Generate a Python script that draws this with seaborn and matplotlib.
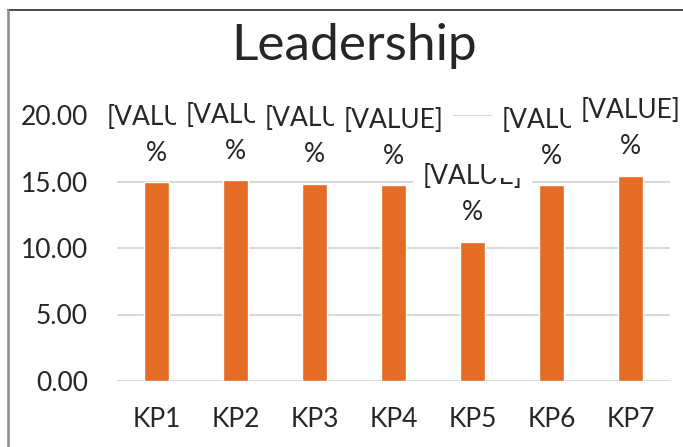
import matplotlib
matplotlib.use("Agg")
import matplotlib.pyplot as plt
import seaborn as sns
from matplotlib.lines import Line2D

# chart data
categories = ["KP1", "KP2", "KP3", "KP4", "KP5", "KP6", "KP7"]
scores = [14.93, 15.08, 14.8, 14.7, 10.45, 14.7, 15.45]
label_text = "[VALUE]\n%"
y_ticks = [0, 5, 10, 15, 20]

sns.set_style("white")
plt.rcParams["font.family"] = ["Lato", "DejaVu Sans"]

fig = plt.figure(figsize=(6.83, 4.47), dpi=100)
ax = fig.add_axes([117 / 683, 1 - 381 / 447, (670 - 117) / 683, (381 - 115) / 447])

sns.barplot(x=categories, y=scores, color="#E46C24", saturation=1, width=0.32, ax=ax)

ax.set_ylim(0, 20)
ax.set_yticks(y_ticks)
ax.set_yticklabels(["%.2f" % t for t in y_ticks])
ax.set_xlim(-0.5, len(categories) - 0.5)
ax.yaxis.grid(True, color="#D9D9D9", linewidth=1.5)
ax.set_axisbelow(True)
for s in ax.spines.values():
    s.set_visible(False)
ax.tick_params(axis="y", length=0, pad=21, labelsize=19, labelcolor="#262626")
ax.tick_params(axis="x", length=0, pad=19, labelsize=19, labelcolor="#262626")
ax.set_xlabel("")
ax.set_ylabel("")

# data labels (white boxes overlap like in the original)
for i, v in enumerate(scores):
    ax.annotate(label_text, xy=(i, v), xytext=(0, 12), textcoords="offset points",
                ha="center", va="bottom", fontsize=19, color="#262626",
                linespacing=1.55, annotation_clip=False, zorder=5 + i,
                bbox=dict(boxstyle="square,pad=0.35", fc="white", ec="none"))

fig.text(354 / 683, 1 - 60 / 447, "Leadership", ha="center", va="baseline",
         fontsize=37, color="#262626")

# chart border
fig.add_artist(Line2D([8 / 683, 1], [1 - 9.5 / 447] * 2, color="#3a3a3a", linewidth=1.3))
fig.add_artist(Line2D([8 / 683] * 2, [0, 1 - 9.5 / 447], color="#8c8c8c", linewidth=1.8))

fig.savefig("out.png", dpi=100)
